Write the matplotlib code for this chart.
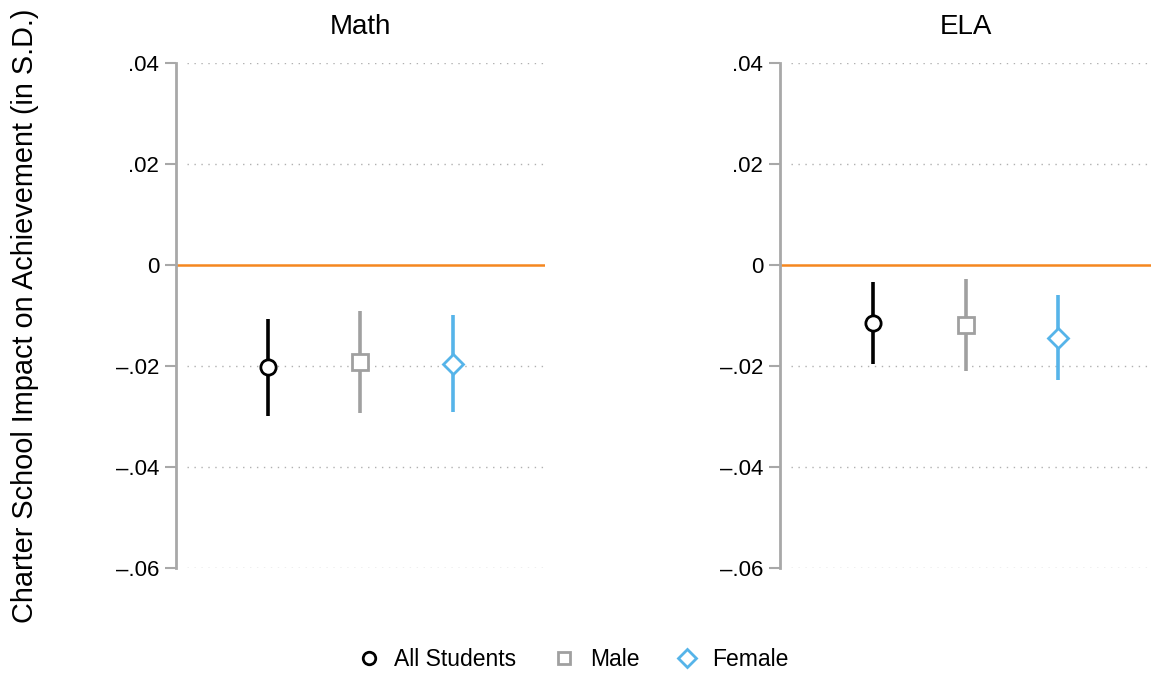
import numpy as np
import matplotlib
matplotlib.use('Agg')
import matplotlib.pyplot as plt
from matplotlib.lines import Line2D

plt.rcParams['font.family'] = ['Liberation Sans', 'DejaVu Sans']

# Data
subjects = ['Math', 'ELA']
groups = ['All Students', 'Male', 'Female']
estimates = {
    'Math': [-0.0202, -0.0192, -0.0196],
    'ELA': [-0.0115, -0.0119, -0.0145],
}
ci_low = {
    'Math': [-0.0299, -0.0293, -0.0291],
    'ELA': [-0.0196, -0.0210, -0.0228],
}
ci_high = {
    'Math': [-0.0107, -0.0091, -0.0099],
    'ELA': [-0.0034, -0.0028, -0.0059],
}
yticks = [0.04, 0.02, 0.0, -0.02, -0.04, -0.06]
ytick_labels = ['.04', '.02', '0', '\u2013.02', '\u2013.04', '\u2013.06']

colors = ['#000000', '#a0a0a0', '#56b4e9']
markers = ['o', 's', 'D']
msizes = [11, 11, 10]

axis_gray = '#a8a8a8'
orange = '#f5871f'

fig = plt.figure(figsize=(11.51, 6.74), dpi=100)
axes_pos = [[0.1529, 0.1573, 0.3206, 0.7493],
            [0.6777, 0.1573, 0.3223, 0.7493]]

for pos, subj in zip(axes_pos, subjects):
    ax = fig.add_axes(pos)
    x = np.arange(1, len(groups) + 1)
    for i in range(len(groups)):
        est = estimates[subj][i]
        lo = ci_low[subj][i]
        hi = ci_high[subj][i]
        # confidence interval
        ax.plot([x[i], x[i]], [lo, hi], color=colors[i], lw=2.6, zorder=3,
                solid_capstyle='butt')
        ax.plot(x[i], est, linestyle='none', marker=markers[i], ms=msizes[i],
                mfc='white', mec=colors[i], mew=2.0, zorder=4)
    ax.axhline(0, color=orange, lw=1.8, zorder=2)
    for yv in yticks:
        if yv != 0:
            ax.axhline(yv, xmin=0.03, xmax=1.0, color='#b0b0b0', lw=1.0,
                       linestyle=(0, (1, 4)), zorder=1)
    ax.set_xlim(0, 4)
    ax.set_ylim(-0.06, 0.04)
    ax.set_xticks([])
    ax.set_yticks(yticks)
    ax.set_yticklabels(ytick_labels, fontsize=16)
    ax.tick_params(axis='y', length=8, width=1.5, color=axis_gray, pad=4)
    for s in ['top', 'right', 'bottom']:
        ax.spines[s].set_visible(False)
    ax.spines['left'].set_color(axis_gray)
    ax.spines['left'].set_linewidth(2)
    ax.set_title(subj, fontsize=20, pad=21)

fig.text(0.022, 0.531, 'Charter School Impact on Achievement (in S.D.)',
         rotation=90, fontsize=20.8, ha='center', va='center')

handles = [Line2D([], [], linestyle='none', marker=m, ms=9,
                  mfc='white', mec=c, mew=2.0)
           for m, c in zip(markers, colors)]
fig.legend(handles, groups, loc='center', bbox_to_anchor=(0.497, 0.022),
           ncol=3, frameon=False, fontsize=16.5, handletextpad=0.5,
           columnspacing=1.5, handlelength=1.2)

fig.savefig('out.png', dpi=100)
